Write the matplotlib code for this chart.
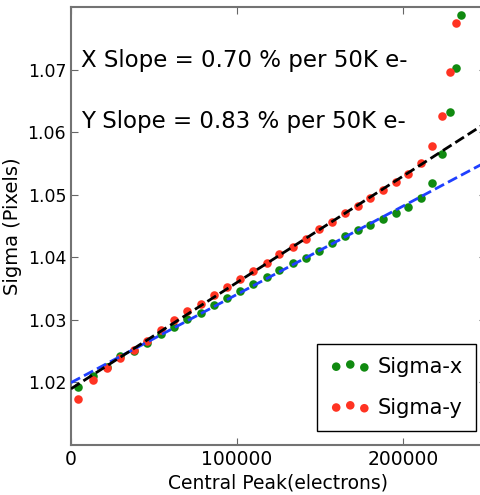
import numpy as np
import matplotlib
matplotlib.use("Agg")
import matplotlib.pyplot as plt

# central peak (electrons) of each flat / spot level
peak = [4400, 13070, 21500, 29700, 37770, 45780, 54040, 62050, 70060, 78130,
        86140, 93800, 101800, 109800, 117900, 125500, 133600, 141600, 149400, 157000,
        165100, 172700, 180100, 187800, 195800, 203200, 210700, 217700, 223500, 228300,
        231900, 234900]

sigma_x = [1.01920, 1.02109, 1.02244, 1.02420, 1.02500, 1.02635, 1.02771, 1.02894, 1.03018, 1.03117,
           1.03234, 1.03345, 1.03457, 1.03569, 1.03692, 1.03797, 1.03915, 1.03995, 1.04100, 1.04234,
           1.04340, 1.04435, 1.04522, 1.04617, 1.04713, 1.04802, 1.04949, 1.05192, 1.05655, 1.06319,
           1.07032, 1.07878]

sigma_y = [1.01733, 1.02034, 1.02228, 1.02383, 1.02525, 1.02667, 1.02835, 1.02991, 1.03135, 1.03254,
           1.03393, 1.03529, 1.03660, 1.03781, 1.03915, 1.04048, 1.04170, 1.04287, 1.04447, 1.04563,
           1.04702, 1.04818, 1.04941, 1.05069, 1.05201, 1.05335, 1.05500, 1.05776, 1.06266, 1.06960,
           1.07745]

slopes = {'X': 0.70, 'Y': 0.83}  # % per 50K e-, as quoted on the plot

fit_max = 205000  # only the linear part goes into the fit

peak = np.array(peak)
sx = np.array(sigma_x)
sy = np.array(sigma_y)
px = peak[:len(sx)]
py = peak[:len(sy)]

mx = (px > 10000) & (px < fit_max)
my = (py > 10000) & (py < fit_max)
cx = np.polyfit(px[mx], sx[mx], 1)
cy = np.polyfit(py[my], sy[my], 1)

red = '#ff3322'
green = '#108a10'

fig = plt.figure(figsize=(4.81, 4.95), dpi=100)
ax = fig.add_axes([0.1476, 0.101, 0.8628, 0.8848])

xx = np.linspace(0, 250000, 50)
ax.scatter(px, sx, s=38, color=green, lw=0, label='Sigma-x', zorder=3)
ax.scatter(py, sy, s=38, color=red, lw=0, label='Sigma-y', zorder=3)
ax.plot(xx, np.polyval(cx, xx), ls='--', color='#1f3fff', lw=2, zorder=4)
ax.plot(xx, np.polyval(cy, xx), ls='--', color='k', lw=2, zorder=4)

ax.set_xlim(0, 250000)
ax.set_ylim(1.01, 1.08)
ax.set_xticks([0, 100000, 200000])
ax.set_yticks([1.02, 1.03, 1.04, 1.05, 1.06, 1.07])
ax.tick_params(direction='in', top=True, right=True, labelsize=12.5, length=5, color='0.4')
ax.tick_params(axis='x', labelsize=13.5)
for s in ax.spines.values():
    s.set_color('0.45')
    s.set_linewidth(1.5)

ax.set_xlabel('Central Peak(electrons)', fontsize=13.5, labelpad=3)
ax.set_ylabel('Sigma (Pixels)', fontsize=14, labelpad=4)

ax.text(6000, 1.0715, 'X Slope = %.2f %% per 50K e-' % slopes['X'], fontsize=16.5, va='center')
ax.text(6000, 1.0617, 'Y Slope = %.2f %% per 50K e-' % slopes['Y'], fontsize=16.5, va='center')

ax.legend(loc='lower right', bbox_to_anchor=(0.976, 0.032), scatterpoints=3,
          scatteryoffsets=[0.45, 0.6, 0.4], fontsize=15, fancybox=False,
          framealpha=1, edgecolor='k', handlelength=1.95, handletextpad=0.35,
          borderpad=0.62, labelspacing=1.0, borderaxespad=0)

fig.savefig('out.png', dpi=100)
